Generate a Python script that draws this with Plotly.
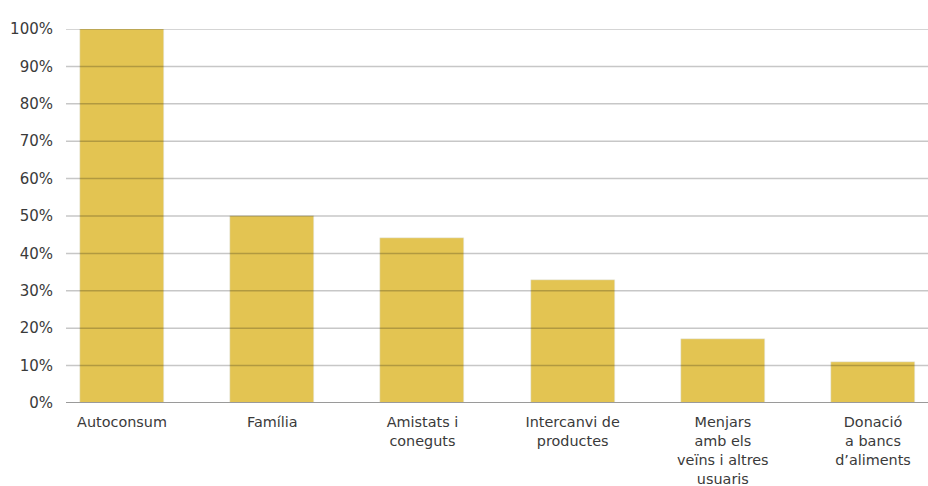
import plotly.graph_objects as go

categories = ["Autoconsum", "Família", "Amistats i<br>coneguts", "Intercanvi de<br>productes",
              "Menjars<br>amb els<br>veïns i altres<br>usuaris", "Donació<br>a bancs<br>d’aliments"]
values = [100, 50, 44, 33, 17, 11]
y_ticks = [0, 10, 20, 30, 40, 50, 60, 70, 80, 90, 100]
y_tick_labels = [f"{v}%" for v in y_ticks]

BAR = "#E3C452"
FONT = dict(family="'DejaVu Sans', sans-serif", size=15, color="#3a3a3a")
XFONT = dict(family="'DejaVu Sans', sans-serif", size=14.4, color="#3a3a3a")

fig = go.Figure(go.Bar(
    x=list(range(len(categories))), y=values, marker_color=BAR, width=0.56,
    hoverinfo="skip",
))

shapes = []
for t in y_ticks[1:]:
    shapes.append(dict(type="line", xref="paper", x0=0, x1=1, yref="y", y0=t, y1=t,
                       layer="above", line=dict(color="rgba(0,0,0,0.22)", width=1.5)))
shapes.append(dict(type="line", xref="paper", x0=0, x1=1, yref="y", y0=0, y1=0,
                   layer="above", line=dict(color="#9a9a9a", width=2)))

fig.update_layout(
    width=928, height=486,
    margin=dict(l=66, r=0, t=29, b=83, autoexpand=False),
    plot_bgcolor="white", paper_bgcolor="white",
    font=FONT, showlegend=False, shapes=shapes, bargap=0,
)
fig.update_xaxes(
    tickmode="array", tickvals=list(range(len(categories))), ticktext=categories,
    range=[-0.373, 5.366], showgrid=False, zeroline=False, showline=False,
    ticks="", ticklabelstandoff=9, tickfont=XFONT, automargin=False,
)
fig.update_yaxes(
    tickmode="array", tickvals=y_ticks, ticktext=y_tick_labels,
    range=[0, 100], showgrid=False, zeroline=False, showline=False,
    ticks="", ticklabelstandoff=12, tickfont=FONT, automargin=False,
)

fig.write_html(
    "out.html",
    config={"displayModeBar": False},
    post_script="document.body.style.margin='0';document.body.style.overflow='hidden';",
)
